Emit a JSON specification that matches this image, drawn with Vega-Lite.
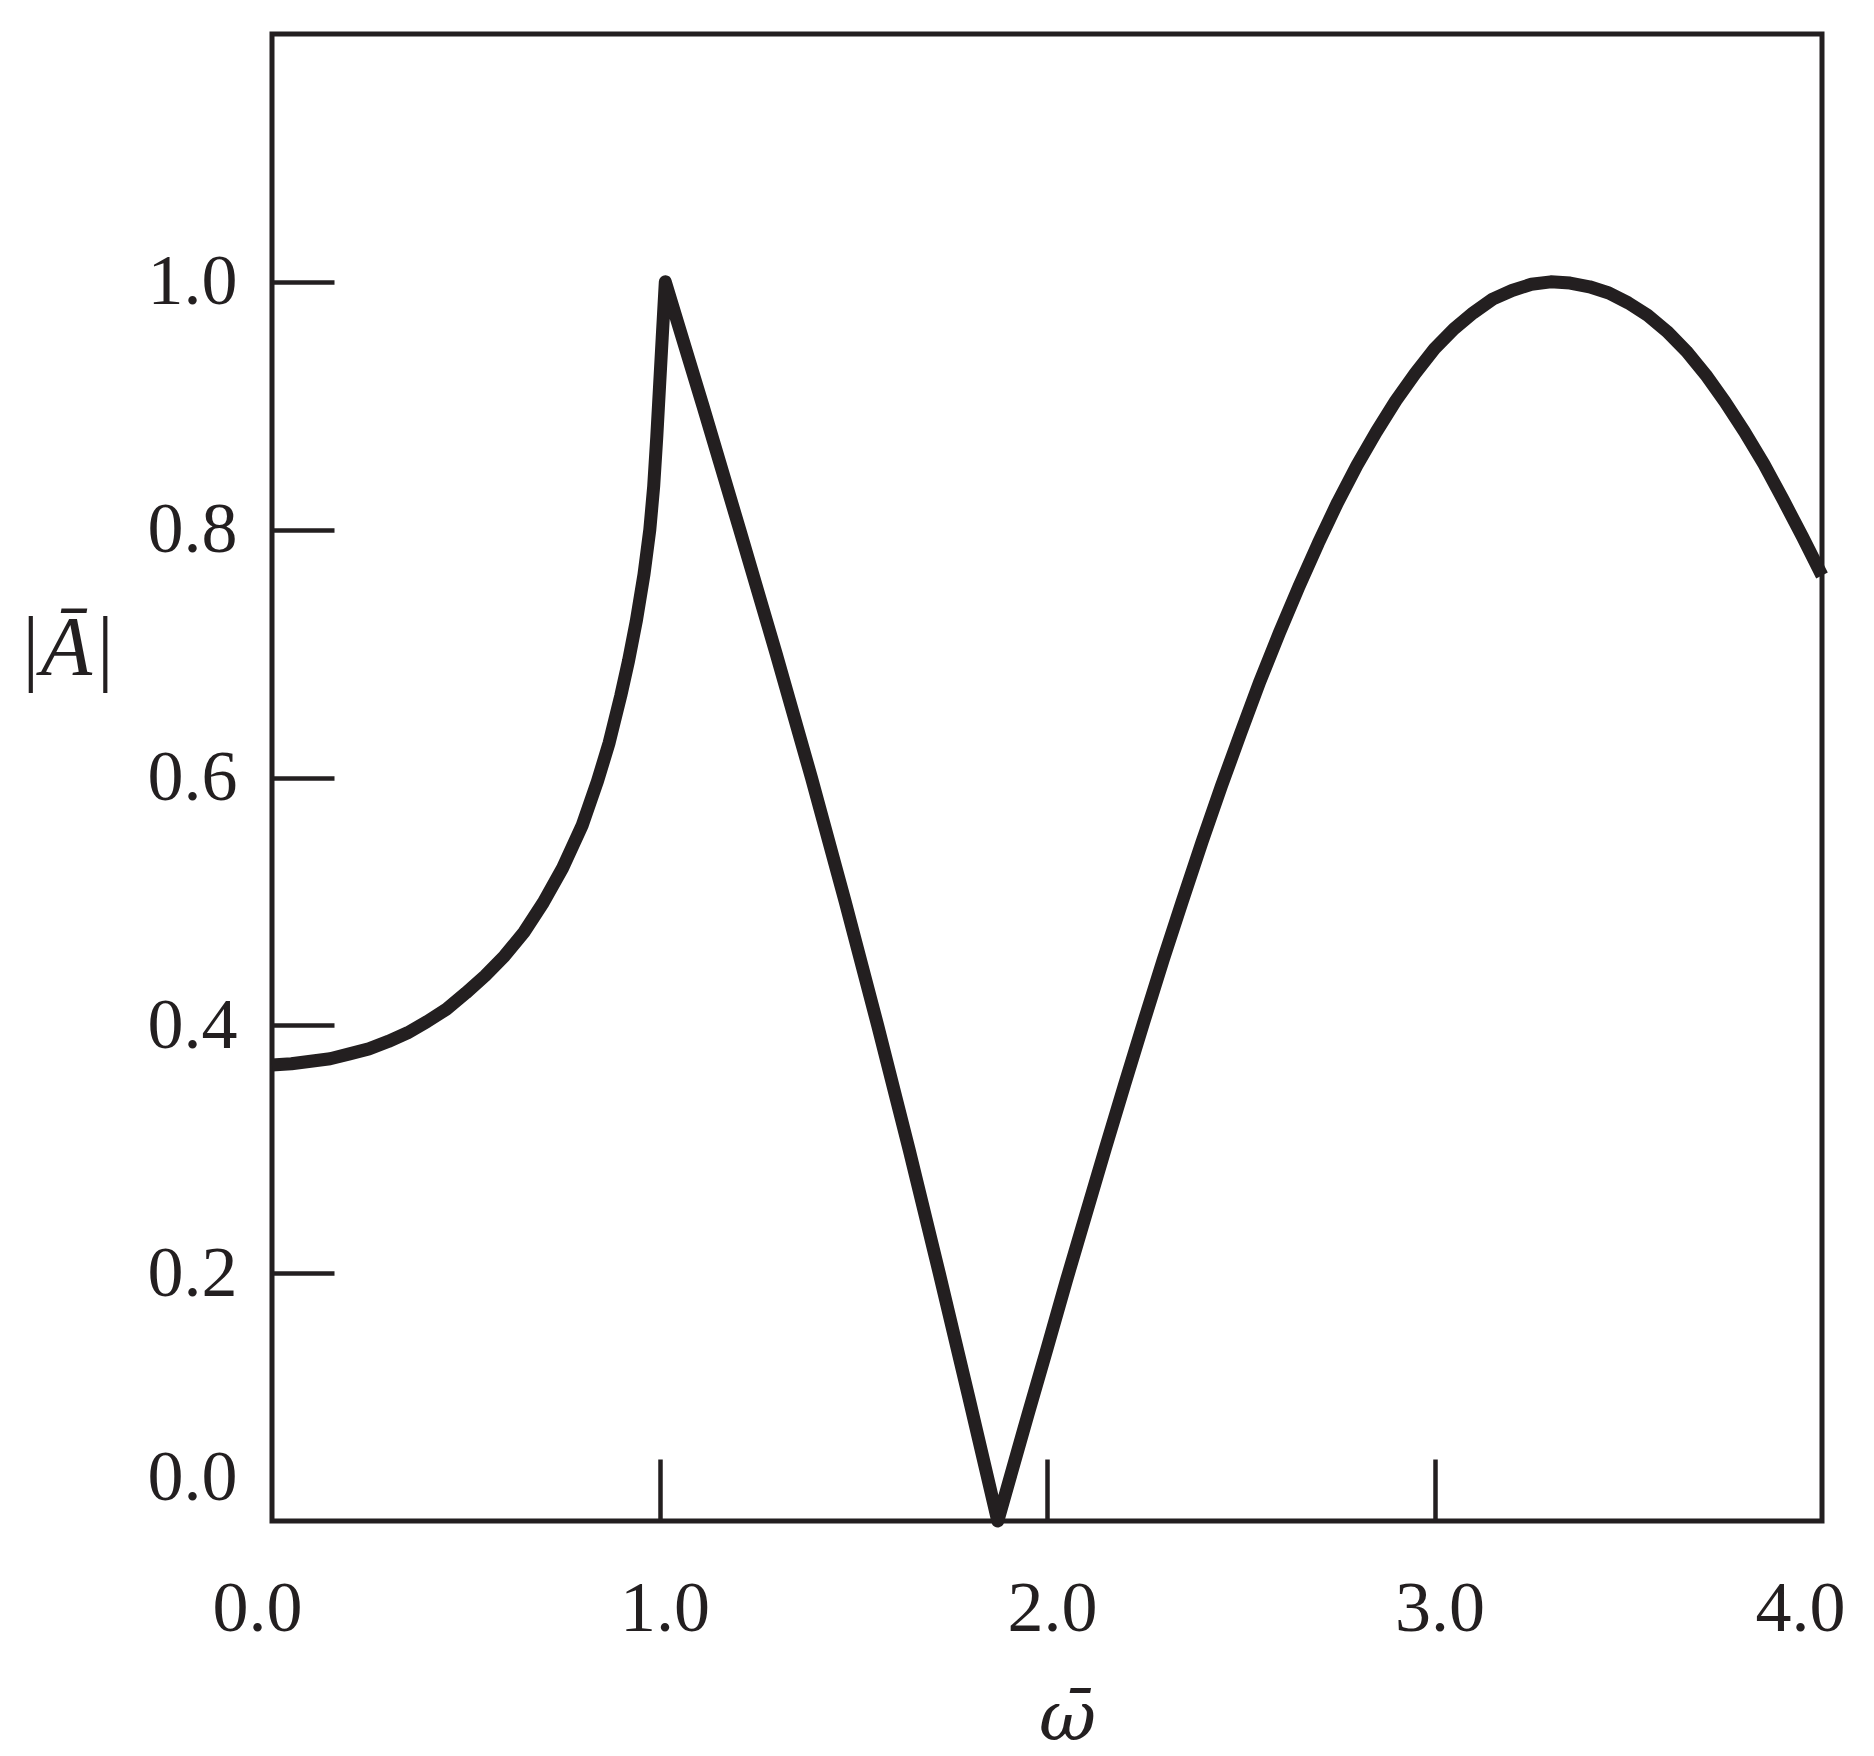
{
  "$schema": "https://vega.github.io/schema/vega-lite/v6.json",
  "width": 1550,
  "height": 1487,
  "autosize": "none",
  "padding": {"left": 272, "top": 34, "right": 52, "bottom": 235},
  "background": "white",
  "config": {
    "view": {"stroke": "#231f20", "strokeWidth": 5},
    "axis": {"grid": false, "domain": false}
  },
  "data": {
    "values": [
      {"w": 0.0, "A": 0.368}, {"w": 0.05, "A": 0.369}, {"w": 0.1, "A": 0.371}, {"w": 0.15, "A": 0.373},
      {"w": 0.2, "A": 0.377}, {"w": 0.25, "A": 0.381}, {"w": 0.3, "A": 0.387}, {"w": 0.35, "A": 0.394},
      {"w": 0.4, "A": 0.403}, {"w": 0.45, "A": 0.413}, {"w": 0.5, "A": 0.426}, {"w": 0.55, "A": 0.44},
      {"w": 0.6, "A": 0.456}, {"w": 0.65, "A": 0.475}, {"w": 0.7, "A": 0.499}, {"w": 0.75, "A": 0.527},
      {"w": 0.8, "A": 0.561}, {"w": 0.84, "A": 0.597}, {"w": 0.87, "A": 0.628}, {"w": 0.9, "A": 0.666},
      {"w": 0.92, "A": 0.694}, {"w": 0.94, "A": 0.726}, {"w": 0.96, "A": 0.764}, {"w": 0.975, "A": 0.8},
      {"w": 0.985, "A": 0.835}, {"w": 0.993, "A": 0.875}, {"w": 1.0, "A": 0.915}, {"w": 1.007, "A": 0.955},
      {"w": 1.015, "A": 1.0},
      {"w": 1.112, "A": 0.9}, {"w": 1.207, "A": 0.8}, {"w": 1.301, "A": 0.7}, {"w": 1.392, "A": 0.6},
      {"w": 1.479, "A": 0.5}, {"w": 1.563, "A": 0.4}, {"w": 1.644, "A": 0.3}, {"w": 1.722, "A": 0.2},
      {"w": 1.798, "A": 0.1}, {"w": 1.873, "A": 0.0},
      {"w": 1.95, "A": 0.085}, {"w": 2.0, "A": 0.139}, {"w": 2.05, "A": 0.194}, {"w": 2.1, "A": 0.247},
      {"w": 2.15, "A": 0.3}, {"w": 2.2, "A": 0.352}, {"w": 2.25, "A": 0.403}, {"w": 2.3, "A": 0.453},
      {"w": 2.35, "A": 0.501}, {"w": 2.4, "A": 0.548}, {"w": 2.45, "A": 0.593}, {"w": 2.5, "A": 0.636},
      {"w": 2.55, "A": 0.678}, {"w": 2.6, "A": 0.717}, {"w": 2.65, "A": 0.754}, {"w": 2.7, "A": 0.789},
      {"w": 2.75, "A": 0.822}, {"w": 2.8, "A": 0.852}, {"w": 2.85, "A": 0.879}, {"w": 2.9, "A": 0.904},
      {"w": 2.95, "A": 0.926}, {"w": 3.0, "A": 0.946}, {"w": 3.05, "A": 0.962}, {"w": 3.1, "A": 0.975},
      {"w": 3.15, "A": 0.986}, {"w": 3.2, "A": 0.993}, {"w": 3.25, "A": 0.998}, {"w": 3.3, "A": 1.0},
      {"w": 3.35, "A": 0.999}, {"w": 3.4, "A": 0.996}, {"w": 3.45, "A": 0.991}, {"w": 3.5, "A": 0.983},
      {"w": 3.55, "A": 0.973}, {"w": 3.6, "A": 0.96}, {"w": 3.65, "A": 0.944}, {"w": 3.7, "A": 0.925},
      {"w": 3.75, "A": 0.903}, {"w": 3.8, "A": 0.879}, {"w": 3.85, "A": 0.853}, {"w": 3.9, "A": 0.824},
      {"w": 3.95, "A": 0.794}, {"w": 4.0, "A": 0.763}
    ]
  },
  "mark": {"type": "line", "color": "#231f20", "strokeWidth": 13, "interpolate": "linear", "strokeJoin": "round"},
  "encoding": {
    "x": {
      "field": "w",
      "type": "quantitative",
      "scale": {"domain": [0, 4], "nice": false, "zero": false},
      "axis": {
        "values": [0, 1, 2, 3, 4],
        "format": ".1f",
        "tickSize": -62,
        "tickWidth": 4.5,
        "tickColor": "#231f20",
        "tickOpacity": {"condition": {"test": "datum.value == 0 || datum.value == 4", "value": 0}, "value": 1},
        "labelFont": "Liberation Serif, Times New Roman, serif",
        "labelFontSize": 72,
        "labelColor": "#231f20",
        "labelPadding": 114,
        "labelOffset": {"condition": [{"test": "datum.value == 0", "value": -15}, {"test": "datum.value == 4", "value": -22}], "value": 5},
        "labelFlush": false,
        "labelOverlap": false,
        "labelBound": false,
        "title": "ω̄",
        "titleFont": "DejaVu Serif",
        "titleFontSize": 70,
        "titleFontStyle": "italic",
        "titleFontWeight": "normal",
        "titleColor": "#231f20",
        "titleX": 795,
        "titleY": 218,
        "titleAlign": "center",
        "titleBaseline": "alphabetic"
      }
    },
    "y": {
      "field": "A",
      "type": "quantitative",
      "scale": {"domain": [0, 1.2], "nice": false, "zero": false},
      "axis": {
        "values": [0, 0.2, 0.4, 0.6, 0.8, 1.0],
        "format": ".1f",
        "tickSize": -62,
        "tickWidth": 4.5,
        "tickColor": "#231f20",
        "tickOpacity": {"condition": {"test": "datum.value == 0", "value": 0}, "value": 1},
        "labelFont": "Liberation Serif, Times New Roman, serif",
        "labelFontSize": 72,
        "labelColor": "#231f20",
        "labelPadding": 97,
        "labelOffset": {"condition": {"test": "datum.value == 0", "value": -44}, "value": 0},
        "labelFlush": false,
        "labelOverlap": false,
        "labelBound": false,
        "title": "|Ā|",
        "titleFont": "Liberation Serif, Times New Roman, serif",
        "titleFontSize": 84,
        "titleFontStyle": "italic",
        "titleFontWeight": "normal",
        "titleColor": "#231f20",
        "titleAngle": 0,
        "titleX": -206,
        "titleY": 640,
        "titleAlign": "center",
        "titleBaseline": "alphabetic"
      }
    }
  }
}
